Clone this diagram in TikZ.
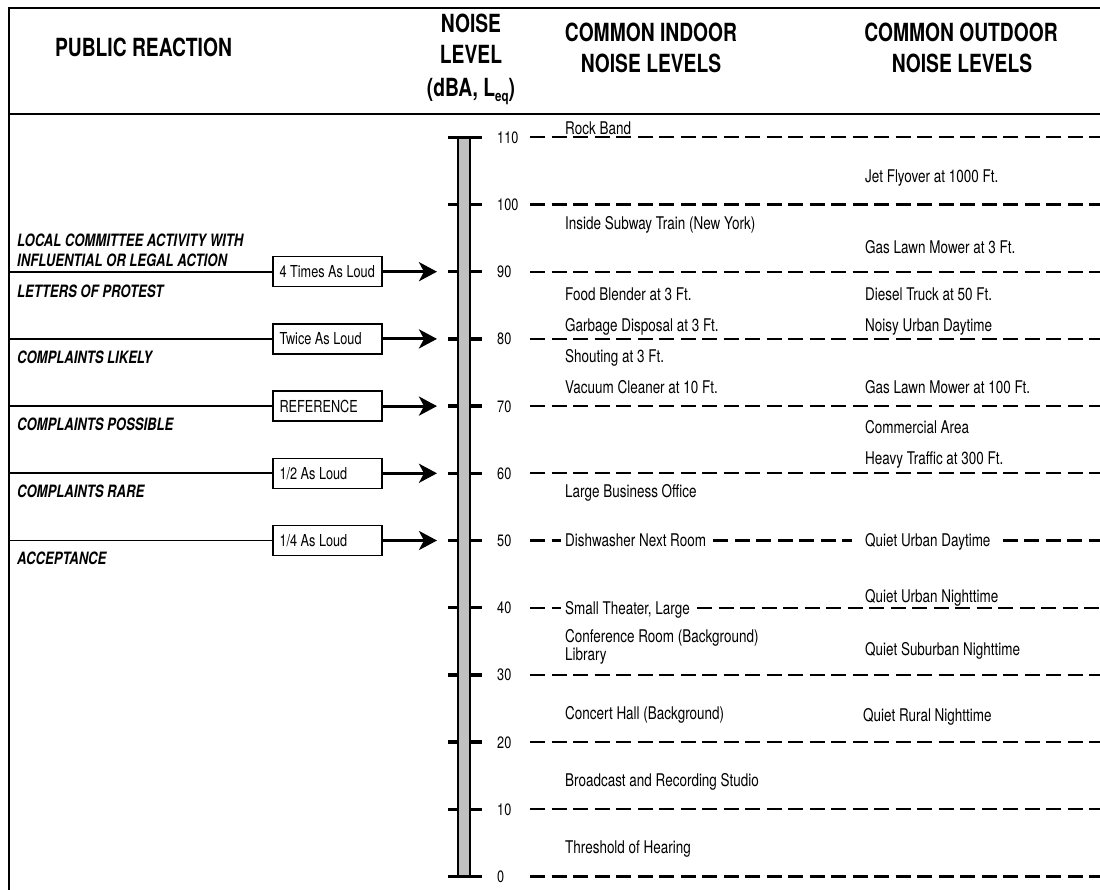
\documentclass[tikz,border=0pt]{standalone}
\usepackage{fontspec}
\usetikzlibrary{arrows.meta}
\newfontfamily\nar[FakeStretch=0.77]{TeX Gyre Heros}
\definecolor{barfill}{RGB}{192,192,192}
\begin{document}
\begin{tikzpicture}[x=1pt,y=-1pt,
 hdr/.style={font=\nar\bfseries\fontsize{25}{30}\selectfont, inner sep=0pt, text height=18pt, text depth=0pt},
 body/.style={font=\nar\fontsize{17.5}{20}\selectfont, anchor=west, inner sep=0pt, text height=12.6pt, text depth=0pt},
 lbl/.style={font=\nar\bfseries\itshape\fontsize{17}{20}\selectfont, anchor=west, inner sep=0pt, text height=12.2pt, text depth=0pt},
 num/.style={font=\nar\fontsize{16.5}{18}\selectfont, anchor=west, inner sep=0pt, text height=11.8pt, text depth=0pt},
 ratio/.style={draw, line width=1.3pt, font=\nar\fontsize{16.5}{18}\selectfont, minimum height=30pt, inner xsep=6.5pt, inner ysep=0pt, text height=11.8pt, text depth=0pt},
 frame/.style={line width=2pt},
 lead/.style={line width=1.8pt},
 dl/.style={line width=2.2pt, dash pattern=on 15pt off 6.5pt},
 arr/.style={line width=3pt, -{Stealth[length=18pt,width=19pt,inset=5pt]}},
 tk/.style={line width=3.4pt},
]
\useasboundingbox (0,0) rectangle (1100,890);
% frame
\coordinate (fTL) at (8.5,8.5);
\coordinate (fTR) at (1100,8.5);
\coordinate (fBL) at (8.5,890);
\coordinate (sL) at (8.5,114);
\coordinate (sR) at (1100,114);
\draw[frame] (fTR) -- (fTL) -- (fBL);
\draw[frame] (sL) -- (sR);
% headers
\node[hdr] (hPub) at (143.5,48) {PUBLIC REACTION};
\node[hdr] (hN1) at (471,24) {NOISE};
\node[hdr] (hN2) at (471,55) {LEVEL};
\node[hdr] (hN3) at (471,88) {(dBA, L\raisebox{-5pt}{\fontsize{15}{15}\selectfont eq})};
\node[hdr] (hI1) at (651,33) {COMMON INDOOR};
\node[hdr] (hI2) at (651,64) {NOISE LEVELS};
\node[hdr] (hO1) at (961,33) {COMMON OUTDOOR};
\node[hdr] (hO2) at (962,64) {NOISE LEVELS};
% scale
\foreach \L in {1,...,10} \draw[tk] (448,{876.5-67.2*\L}) -- (482,{876.5-67.2*\L});
\draw[line width=1.6pt, fill=barfill] (458,137.3) rectangle (470,876.5);
\draw[tk] (448,137.3) -- (482,137.3);
\draw[tk] (448,876.5) -- (482,876.5);
\foreach \L [evaluate=\L as \v using int(10*\L)] in {0,...,11}
  \node[num] (n\L) at (497,{876.5-67.2*\L}) {\v};
% dashed level lines
\foreach \L in {0,1,2,3,6,7,8,9,10,11}
  \draw[dl] (530,{876.5-67.2*\L}) -- (1100,{876.5-67.2*\L});
% indoor
\node[body] (iRock) at (565,128) {Rock Band};
\node[body] (iSub) at (565,223) {Inside Subway Train (New York)};
\node[body] (iFood) at (565,294) {Food Blender at 3 Ft.};
\node[body] (iGarb) at (565,325) {Garbage Disposal at 3 Ft.};
\node[body] (iShout) at (565,356) {Shouting at 3 Ft.};
\node[body] (iVac) at (565,387) {Vacuum Cleaner at 10 Ft.};
\node[body] (iOff) at (565,491) {Large Business Office};
\node[body] (iDish) at (565,540.5) {Dishwasher Next Room};
\node[body] (iThea) at (565,607.7) {Small Theater, Large};
\node[body] (iConf) at (565,636) {Conference Room (Background)};
\node[body] (iLib) at (565,654) {Library};
\node[body] (iConc) at (565,713) {Concert Hall (Background)};
\node[body] (iBroad) at (565,780) {Broadcast and Recording Studio};
\node[body] (iThr) at (565,847) {Threshold of Hearing};
% outdoor
\node[body] (oJet) at (865,176.5) {Jet Flyover at 1000 Ft.};
\node[body] (oGas3) at (865,247) {Gas Lawn Mower at 3 Ft.};
\node[body] (oDies) at (865,294) {Diesel Truck at 50 Ft.};
\node[body] (oNoisy) at (865,325) {Noisy Urban Daytime};
\node[body] (oGas100) at (865,387) {Gas Lawn Mower at 100 Ft.};
\node[body] (oComm) at (865,427) {Commercial Area};
\node[body] (oHeavy) at (865,458) {Heavy Traffic at 300 Ft.};
\node[body] (oQUD) at (865,540.5) {Quiet Urban Daytime};
\node[body] (oQUN) at (865,596) {Quiet Urban Nighttime};
\node[body] (oQSN) at (865,649) {Quiet Suburban Nighttime};
\node[body] (oQRN) at (863,715) {Quiet Rural Nighttime};
% partial dashed lines at 50 and 40
\coordinate (d50a) at (530,540.5);
\coordinate (d50b) at (1100,540.5);
\coordinate (d40a) at (530,607.7);
\coordinate (d40b) at (1100,607.7);
\draw[dl] (d50a) -- ([xshift=-4pt]iDish.west);
\draw[dl] ([xshift=7pt]iDish.east) -- ([xshift=-13pt]oQUD.west);
\draw[dl] ([xshift=12pt]oQUD.east) -- (d50b);
\draw[dl] (d40a) -- ([xshift=-4pt]iThea.west);
\draw[dl] ([xshift=7pt]iThea.east) -- (d40b);
% public reaction labels
\node[lbl] (pLoc1) at (17,240) {LOCAL COMMITTEE ACTIVITY WITH};
\node[lbl] (pLoc2) at (17,260) {INFLUENTIAL OR LEGAL ACTION};
\node[lbl] (pLet) at (17,291) {LETTERS OF PROTEST};
\node[lbl] (pLik) at (17,357.6) {COMPLAINTS LIKELY};
\node[lbl] (pPos) at (17,424.5) {COMPLAINTS POSSIBLE};
\node[lbl] (pRar) at (17,491) {COMPLAINTS RARE};
\node[lbl] (pAcc) at (17,558) {ACCEPTANCE};
% ratio boxes and arrows
\foreach \L/\t/\n in {9/4 Times As Loud/a, 8/Twice As Loud/b, 7/REFERENCE/c, 6/1\slash 2 As Loud/d, 5/1\slash 4 As Loud/e}{
  \node[ratio] (r\n) at (327.5,{876.5-67.2*\L}) {\makebox[96pt][l]{\t}};
  \coordinate (lb\n) at (8.5,{876.5-67.2*\L});
  \coordinate (tip\n) at (437,{876.5-67.2*\L});
  \draw[lead] (lb\n) -- (r\n.west);
  \draw[arr] (r\n.east) -- (tip\n);
}
\end{tikzpicture}
\end{document}
